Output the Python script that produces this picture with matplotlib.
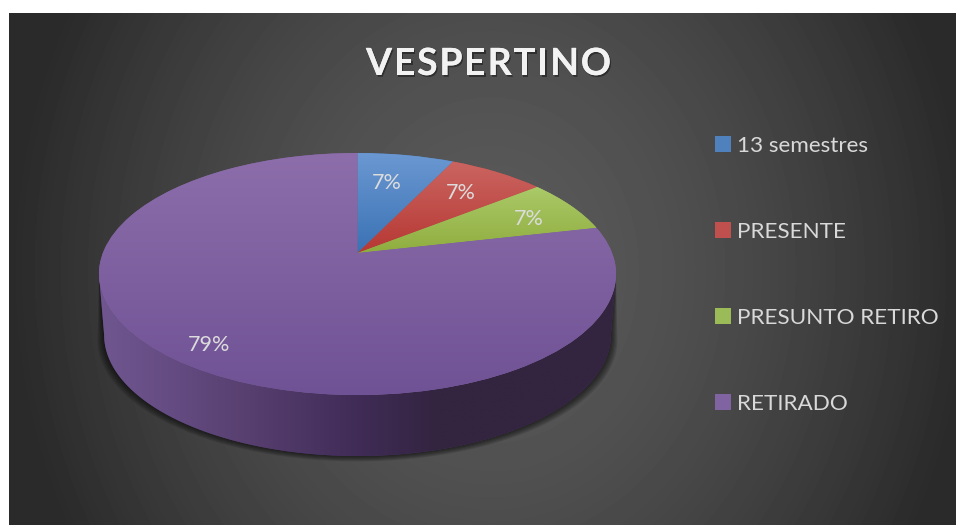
#!/usr/bin/env python3
# -*- coding: utf-8 -*-
import numpy as np
import matplotlib
matplotlib.use('Agg')
import matplotlib.pyplot as plt
import matplotlib.patheffects as pe
from matplotlib.colors import to_rgb
from matplotlib.path import Path
from matplotlib.patches import Polygon
from matplotlib.text import Text
from matplotlib.transforms import Transform

plt.rcParams['font.family'] = ['Lato', 'DejaVu Sans']

title = 'VESPERTINO'
categories = ['13 semestres', 'PRESENTE', 'PRESUNTO RETIRO', 'RETIRADO']
counts = [1, 1, 1, 11]
top_colors = ['#6b98d2', '#cb6561', '#abca69', '#8d6eab']
low_colors = ['#3a72b4', '#b63833', '#8fad3e', '#6f5295']
mid_colors = ['#4f81bd', '#c0504d', '#9bbb59', '#8064a2']
pct_positions = [(387, 183), (461, 193), (529, 219), (209, 345)]

CX, APEX_Y = 357.5, 253.0
BEND = 0.1736
SCALE_X, SCALE_Y = 254.6, 117.36
DEPTH = 61.0
WALL_SHRINK = 0.98


class TiltedPie(Transform):
    """Unit circle of ax.pie -> tilted disc in pixel coordinates."""
    input_dims = 2
    output_dims = 2
    is_separable = False

    def transform_non_affine(self, values):
        values = np.asarray(values, dtype=float)
        den = 1 + BEND * values[:, 1]
        return np.column_stack([CX + SCALE_X * values[:, 0] / den,
                                APEX_Y - SCALE_Y * values[:, 1] / den])

    def transform_path_non_affine(self, path):
        return Path(self.transform_non_affine(path.vertices), path.codes)


class TrackedText(Text):
    """One text artist, drawn letter by letter with extra spacing (pixels)."""
    tracking = 0.0

    def draw(self, renderer):
        full, x0 = self.get_text(), self.get_position()[0]
        prop = self.get_fontproperties()
        for i, ch in enumerate(full):
            adv = renderer.get_text_width_height_descent(full[:i], prop, False)[0] if i else 0
            self._text = ch
            self.set_x(x0 + adv + i * self.tracking)
            super().draw(renderer)
        self._text = full
        self.set_x(x0)


def background(width, height):
    yy, xx = np.mgrid[13:height, 9:width]
    dist = np.sqrt(((xx - 490) / 480.0) ** 2 + ((yy - 270) / 560.0) ** 2)
    grey = 0x5a - (0x5a - 0x2a) * np.clip(dist, 0, 1) ** 1.6
    return np.clip(grey / 255.0, 0, 1)


fig = plt.figure(figsize=(9.56, 5.25), dpi=100, facecolor='white')
ax = fig.add_axes([0, 0, 1, 1])

wedges, _, autotexts = ax.pie(
    counts, colors=mid_colors, startangle=90, counterclock=False,
    autopct=lambda p: f'{p:.0f}%', wedgeprops={'linewidth': 0},
    textprops={'fontsize': 15.5, 'color': '#dcdcdc'},
)

ax.imshow(background(956, 525), cmap='gray', vmin=0, vmax=1, extent=(9, 956, 525, 13),
          aspect='auto', zorder=0, interpolation='bilinear')

tilt = TiltedPie()

# pared lateral del disco
theta = np.linspace(np.arctan2(-BEND, -np.sqrt(1 - BEND ** 2)),
                    np.arctan2(-BEND, np.sqrt(1 - BEND ** 2)), 200)
rim = tilt.transform(np.column_stack([np.cos(theta), np.sin(theta)]))
low = rim.copy()
low[:, 0] = CX + WALL_SHRINK * (rim[:, 0] - CX)
low[:, 1] = rim[:, 1] + DEPTH
wall_poly = np.vstack([rim, low[::-1]])

# sombra bajo el disco
for grow in range(1, 7):
    shadow = low.copy()
    shadow[:, 0] = CX + (low[:, 0] - CX) * (1 + grow * 1.1 / 254)
    shadow[:, 1] = low[:, 1] + grow * 0.9
    ax.add_patch(Polygon(np.vstack([rim, shadow[::-1]]), closed=True, fc='black',
                         ec='none', alpha=0.11, zorder=1))

stops_x = [104, 180, 250, 357, 440, 611]
stops_c = ['#70568f', '#634a80', '#573f6f', '#402c57', '#33243f', '#332540']
xs = np.linspace(99, 616, 518)
wall_rgb = np.stack([np.interp(xs, stops_x, [to_rgb(c)[i] for c in stops_c])
                     for i in range(3)], axis=-1)[np.newaxis, :, :]
wall_edge = Polygon(wall_poly, closed=True, fc='#4a3566', ec='none', zorder=2)
ax.add_patch(wall_edge)
wall_im = ax.imshow(wall_rgb, extent=(99, 616, 460, 270), aspect='auto', zorder=2.1,
                    interpolation='bilinear')
wall_im.set_clip_path(wall_edge)

# cara superior: degradado vertical propio de cada sector
for wedge, c_top, c_low in zip(wedges, top_colors, low_colors):
    wedge.set_transform(tilt + ax.transData)
    wedge.set_zorder(3)
    pts = tilt.transform(wedge.get_path().vertices)
    y0, y1 = pts[:, 1].min(), pts[:, 1].max()
    ramp = np.linspace(to_rgb(c_top), to_rgb(c_low), 256)[:, np.newaxis, :]
    im = ax.imshow(ramp, extent=(pts[:, 0].min(), pts[:, 0].max(), y1, y0), aspect='auto',
                   zorder=3.1, interpolation='bilinear')
    im.set_clip_path(wedge)

for txt, pos in zip(autotexts, pct_positions):
    txt.set_position(pos)
    txt.set_zorder(5)

ax.set_aspect('auto')
ax.set_xlim(0, 956)
ax.set_ylim(525, 0)
ax.axis('off')

title_txt = TrackedText(366, 75, title, ha='left', va='baseline', fontsize=27, fontweight='bold',
                        color='#f2f2f2', zorder=6, transform=ax.transData,
                        path_effects=[pe.withSimplePatchShadow(offset=(1.0, -1.3),
                                                               shadow_rgbFace='black', alpha=0.4),
                                      pe.Normal()])
title_txt.tracking = 1.7
ax.add_artist(title_txt)

leg = ax.legend(wedges, categories, loc='upper left', bbox_to_anchor=(715 / 956, 1 - 136 / 525),
                frameon=False, fontsize=16.2, labelcolor='#d9d9d9', handlelength=0.72,
                handleheight=0.72, handletextpad=0.27, labelspacing=2.93,
                borderpad=0, borderaxespad=0)
leg.set_zorder(6)

fig.savefig('out.png', dpi=100, facecolor='white')
